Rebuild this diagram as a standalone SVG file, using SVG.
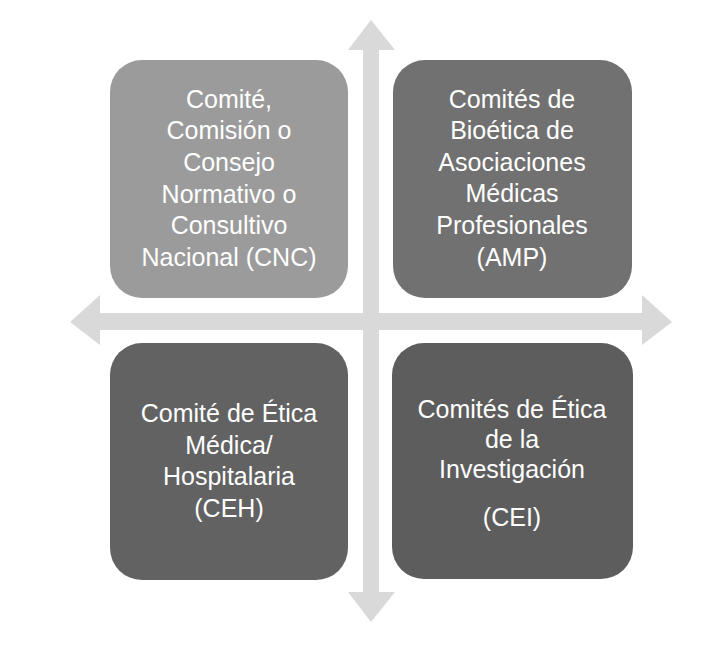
<svg xmlns="http://www.w3.org/2000/svg" width="728" height="670" viewBox="0 0 728 670">
<style>
.arrow{fill:#d9d9d9}
.box text{fill:#ffffff;font-family:"Liberation Sans",Arial,sans-serif;font-size:25px;text-anchor:middle}
</style>
<rect width="728" height="670" fill="#ffffff"/>
<g id="connectors">
<polygon class="arrow" points="371,20 395,50 379,50 379,592 395,592 371,622 348,592 363,592 363,50 348,50"/>
<polygon class="arrow" points="70,322 100,295 100,313 642,313 642,295 672,322 642,345 642,330 100,330 100,345"/>
</g>
<g id="cnc" class="box">
<rect x="110" y="60" width="238" height="238" rx="32" fill="#9b9b9b"/>
<text x="229" y="108">Comité,</text>
<text x="229" y="139">Comisión o</text>
<text x="229" y="171">Consejo</text>
<text x="229" y="203">Normativo o</text>
<text x="229" y="234">Consultivo</text>
<text x="229" y="266">Nacional (CNC)</text>
</g>
<g id="amp" class="box">
<rect x="393" y="60" width="239" height="238" rx="32" fill="#717171"/>
<text x="512" y="108">Comités de</text>
<text x="512" y="139">Bioética de</text>
<text x="512" y="171">Asociaciones</text>
<text x="512" y="202">Médicas</text>
<text x="512" y="234">Profesionales</text>
<text x="512" y="266">(AMP)</text>
</g>
<g id="ceh" class="box">
<rect x="110" y="343" width="238" height="237" rx="32" fill="#626262"/>
<text x="229" y="422">Comité de Ética</text>
<text x="229" y="454">Médica/</text>
<text x="229" y="485">Hospitalaria</text>
<text x="229" y="517">(CEH)</text>
</g>
<g id="cei" class="box">
<rect x="392" y="343" width="241" height="236" rx="32" fill="#5d5d5d"/>
<text x="512" y="418">Comités de Ética</text>
<text x="512" y="448">de la</text>
<text x="512" y="478">Investigación</text>
<text x="512" y="526">(CEI)</text>
</g>
</svg>
